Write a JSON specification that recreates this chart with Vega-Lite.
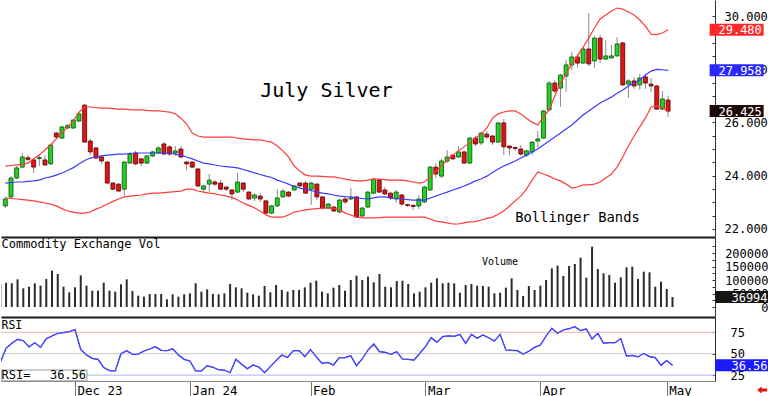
{
"$schema":"https://vega.github.io/schema/vega-lite/v6.json",
"padding":0,"spacing":0,"bounds":"flush","background":"white",
"config":{"view":{"stroke":null},"axis":{"grid":false,"title":null,"labelFont":"DejaVu Sans Mono","labelFontSize":12,"labelColor":"#000","labelOverlap":false}},
"resolve":{"scale":{"color":"independent"}},
"datasets":{"d":[
{"i":0,"t":"2023-11-13","o":22.86,"h":23.2,"l":22.78,"c":23.12,"ub":24.36,"mb":23.72,"lb":23.16,"v":85000,"r":40},
{"i":1,"t":"2023-11-14","o":23.2,"h":23.98,"l":23.16,"c":23.91,"ub":24.38,"mb":23.74,"lb":23.14,"v":90100,"r":56.3},
{"i":2,"t":"2023-11-15","o":23.91,"h":24.36,"l":23.87,"c":24.29,"ub":24.4,"mb":23.76,"lb":23.12,"v":87700,"r":62.1},
{"i":3,"t":"2023-11-16","o":24.32,"h":24.85,"l":24.29,"c":24.7,"ub":24.42,"mb":23.76,"lb":23.1,"v":102500,"r":66.8},
{"i":4,"t":"2023-11-17","o":24.67,"h":24.77,"l":24.55,"c":24.61,"ub":24.47,"mb":23.78,"lb":23.08,"v":69200,"r":65.2},
{"i":5,"t":"2023-11-20","o":24.59,"h":24.63,"l":24.1,"c":24.32,"ub":24.63,"mb":23.8,"lb":23.05,"v":75300,"r":57.8},
{"i":6,"t":"2023-11-21","o":24.64,"h":24.81,"l":24.36,"c":24.68,"ub":24.77,"mb":23.83,"lb":23.01,"v":87700,"r":62.9},
{"i":7,"t":"2023-11-22","o":24.59,"h":24.77,"l":24.36,"c":24.4,"ub":24.96,"mb":23.91,"lb":22.97,"v":79000,"r":57.4},
{"i":8,"t":"2023-11-24","o":24.44,"h":25.19,"l":24.4,"c":25.15,"ub":25.15,"mb":23.95,"lb":22.93,"v":103700,"r":67.6},
{"i":9,"t":"2023-11-27","o":25.6,"h":25.64,"l":25.41,"c":25.45,"ub":25.38,"mb":24.02,"lb":22.86,"v":134600,"r":70.7},
{"i":10,"t":"2023-11-28","o":25.41,"h":25.86,"l":25.38,"c":25.83,"ub":25.6,"mb":24.1,"lb":22.76,"v":122200,"r":73.8},
{"i":11,"t":"2023-11-29","o":25.79,"h":25.94,"l":25.75,"c":25.88,"ub":25.83,"mb":24.19,"lb":22.67,"v":75300,"r":74.6},
{"i":12,"t":"2023-11-30","o":25.79,"h":26.13,"l":25.75,"c":26.09,"ub":26.05,"mb":24.3,"lb":22.63,"v":54300,"r":75.7},
{"i":13,"t":"2023-12-01","o":26.05,"h":26.39,"l":26.01,"c":26.32,"ub":26.39,"mb":24.44,"lb":22.59,"v":72900,"r":78.1},
{"i":14,"t":"2023-12-04","o":26.65,"h":26.69,"l":25.23,"c":25.26,"ub":26.58,"mb":24.57,"lb":22.59,"v":117300,"r":55.1},
{"i":15,"t":"2023-12-05","o":25.3,"h":25.38,"l":24.77,"c":24.89,"ub":26.58,"mb":24.66,"lb":22.63,"v":79000,"r":48.5},
{"i":16,"t":"2023-12-06","o":25.04,"h":25.08,"l":24.63,"c":24.66,"ub":26.56,"mb":24.7,"lb":22.74,"v":60500,"r":44.6},
{"i":17,"t":"2023-12-07","o":24.7,"h":24.77,"l":24.44,"c":24.55,"ub":26.54,"mb":24.74,"lb":22.82,"v":60500,"r":43.4},
{"i":18,"t":"2023-12-08","o":24.51,"h":24.55,"l":23.68,"c":23.72,"ub":26.54,"mb":24.77,"lb":22.93,"v":90100,"r":33.7},
{"i":19,"t":"2023-12-11","o":23.72,"h":23.76,"l":23.46,"c":23.49,"ub":26.52,"mb":24.79,"lb":23.03,"v":60500,"r":30.2},
{"i":20,"t":"2023-12-12","o":23.68,"h":23.72,"l":23.38,"c":23.42,"ub":26.5,"mb":24.81,"lb":23.12,"v":56800,"r":29.8},
{"i":21,"t":"2023-12-13","o":23.49,"h":24.55,"l":23.23,"c":24.51,"ub":26.5,"mb":24.81,"lb":23.2,"v":84000,"r":50},
{"i":22,"t":"2023-12-14","o":24.47,"h":24.89,"l":24.44,"c":24.81,"ub":26.48,"mb":24.83,"lb":23.23,"v":102500,"r":53.5},
{"i":23,"t":"2023-12-15","o":24.85,"h":24.93,"l":24.4,"c":24.44,"ub":26.47,"mb":24.85,"lb":23.25,"v":59300,"r":49.3},
{"i":24,"t":"2023-12-18","o":24.63,"h":24.66,"l":24.36,"c":24.47,"ub":26.47,"mb":24.85,"lb":23.27,"v":42000,"r":49.6},
{"i":25,"t":"2023-12-19","o":24.47,"h":24.77,"l":24.44,"c":24.74,"ub":26.45,"mb":24.85,"lb":23.31,"v":38300,"r":53.2},
{"i":26,"t":"2023-12-20","o":24.74,"h":24.93,"l":24.7,"c":24.89,"ub":26.43,"mb":24.85,"lb":23.34,"v":48200,"r":55.5},
{"i":27,"t":"2023-12-21","o":24.85,"h":25.11,"l":24.81,"c":25.04,"ub":26.43,"mb":24.85,"lb":23.34,"v":48200,"r":58.2},
{"i":28,"t":"2023-12-22","o":25.19,"h":25.26,"l":24.77,"c":24.81,"ub":26.41,"mb":24.85,"lb":23.36,"v":48200,"r":53.9},
{"i":29,"t":"2023-12-26","o":25.08,"h":25.15,"l":24.74,"c":24.81,"ub":26.39,"mb":24.85,"lb":23.38,"v":28400,"r":53.5},
{"i":30,"t":"2023-12-27","o":24.85,"h":25.11,"l":24.74,"c":24.93,"ub":26.32,"mb":24.81,"lb":23.4,"v":46900,"r":55.9},
{"i":31,"t":"2023-12-28","o":25,"h":25.11,"l":24.66,"c":24.7,"ub":26.16,"mb":24.76,"lb":23.42,"v":38300,"r":48.5},
{"i":32,"t":"2023-12-29","o":24.51,"h":24.55,"l":24.21,"c":24.44,"ub":25.94,"mb":24.7,"lb":23.49,"v":46900,"r":43.4},
{"i":33,"t":"2024-01-02","o":24.51,"h":24.55,"l":24.29,"c":24.32,"ub":25.6,"mb":24.63,"lb":23.49,"v":50600,"r":41.5},
{"i":34,"t":"2024-01-03","o":24.25,"h":24.29,"l":23.57,"c":23.61,"ub":25.49,"mb":24.55,"lb":23.42,"v":87700,"r":29.8},
{"i":35,"t":"2024-01-04","o":23.49,"h":23.65,"l":23.38,"c":23.61,"ub":25.45,"mb":24.47,"lb":23.38,"v":56800,"r":29.8},
{"i":36,"t":"2024-01-05","o":23.68,"h":24.06,"l":23.38,"c":23.83,"ub":25.45,"mb":24.44,"lb":23.34,"v":65400,"r":36},
{"i":37,"t":"2024-01-08","o":23.76,"h":23.83,"l":23.61,"c":23.68,"ub":25.45,"mb":24.4,"lb":23.31,"v":48200,"r":34.1},
{"i":38,"t":"2024-01-09","o":23.72,"h":23.83,"l":23.46,"c":23.49,"ub":25.45,"mb":24.36,"lb":23.27,"v":46900,"r":31.3},
{"i":39,"t":"2024-01-10","o":23.57,"h":23.61,"l":23.42,"c":23.49,"ub":25.45,"mb":24.34,"lb":23.23,"v":50600,"r":30.9},
{"i":40,"t":"2024-01-11","o":23.46,"h":23.49,"l":23.08,"c":23.31,"ub":25.45,"mb":24.32,"lb":23.18,"v":85200,"r":27.8},
{"i":41,"t":"2024-01-12","o":23.38,"h":24.1,"l":23.34,"c":23.76,"ub":25.41,"mb":24.29,"lb":23.08,"v":72900,"r":43.4},
{"i":42,"t":"2024-01-16","o":23.72,"h":23.76,"l":23.38,"c":23.49,"ub":25.38,"mb":24.23,"lb":22.97,"v":69200,"r":37.6},
{"i":43,"t":"2024-01-17","o":23.38,"h":23.42,"l":23.08,"c":23.12,"ub":25.36,"mb":24.17,"lb":22.88,"v":53100,"r":32.5},
{"i":44,"t":"2024-01-18","o":23.16,"h":23.34,"l":23.05,"c":23.27,"ub":25.34,"mb":24.1,"lb":22.78,"v":46900,"r":36.8},
{"i":45,"t":"2024-01-19","o":23.23,"h":23.34,"l":23.01,"c":23.12,"ub":25.34,"mb":24.04,"lb":22.67,"v":42000,"r":34.5},
{"i":46,"t":"2024-01-22","o":23.05,"h":23.08,"l":22.55,"c":22.59,"ub":25.3,"mb":23.98,"lb":22.52,"v":77800,"r":27.8},
{"i":47,"t":"2024-01-23","o":22.59,"h":22.9,"l":22.55,"c":22.86,"ub":25.26,"mb":23.93,"lb":22.44,"v":54300,"r":34.9},
{"i":48,"t":"2024-01-24","o":22.86,"h":23.49,"l":22.82,"c":23.16,"ub":25.11,"mb":23.83,"lb":22.44,"v":81500,"r":41.9},
{"i":49,"t":"2024-01-25","o":23.2,"h":23.49,"l":23.16,"c":23.42,"ub":24.93,"mb":23.76,"lb":22.44,"v":63000,"r":48.5},
{"i":50,"t":"2024-01-26","o":23.38,"h":23.42,"l":23.2,"c":23.23,"ub":24.7,"mb":23.68,"lb":22.52,"v":56800,"r":45.4},
{"i":51,"t":"2024-01-29","o":23.46,"h":23.65,"l":23.42,"c":23.61,"ub":24.36,"mb":23.59,"lb":22.63,"v":63000,"r":53.5},
{"i":52,"t":"2024-01-30","o":23.72,"h":23.76,"l":23.57,"c":23.61,"ub":24.17,"mb":23.53,"lb":22.67,"v":63000,"r":53.5},
{"i":53,"t":"2024-01-31","o":23.72,"h":23.8,"l":23.31,"c":23.34,"ub":24.02,"mb":23.48,"lb":22.71,"v":72900,"r":46.6},
{"i":54,"t":"2024-02-01","o":23.49,"h":23.76,"l":22.9,"c":23.72,"ub":23.98,"mb":23.44,"lb":22.74,"v":90100,"r":54.7},
{"i":55,"t":"2024-02-02","o":23.68,"h":23.72,"l":23.08,"c":23.2,"ub":23.98,"mb":23.38,"lb":22.76,"v":97500,"r":46.2},
{"i":56,"t":"2024-02-05","o":23.2,"h":23.23,"l":22.74,"c":22.78,"ub":23.97,"mb":23.34,"lb":22.78,"v":56800,"r":38.7},
{"i":57,"t":"2024-02-06","o":22.78,"h":22.97,"l":22.74,"c":22.93,"ub":23.95,"mb":23.31,"lb":22.78,"v":50600,"r":39.9},
{"i":58,"t":"2024-02-07","o":22.82,"h":22.86,"l":22.63,"c":22.67,"ub":23.95,"mb":23.27,"lb":22.78,"v":71600,"r":36.8},
{"i":59,"t":"2024-02-08","o":22.63,"h":23.12,"l":22.59,"c":23.08,"ub":23.91,"mb":23.23,"lb":22.71,"v":81500,"r":45.4},
{"i":60,"t":"2024-02-09","o":23.12,"h":23.2,"l":22.93,"c":23.01,"ub":23.87,"mb":23.21,"lb":22.59,"v":60500,"r":45.4},
{"i":61,"t":"2024-02-12","o":23.12,"h":23.53,"l":23.08,"c":23.16,"ub":23.83,"mb":23.2,"lb":22.52,"v":100000,"r":47.7},
{"i":62,"t":"2024-02-13","o":23.2,"h":23.23,"l":22.41,"c":22.44,"ub":23.8,"mb":23.16,"lb":22.44,"v":116100,"r":36},
{"i":63,"t":"2024-02-14","o":22.48,"h":22.82,"l":22.44,"c":22.78,"ub":23.8,"mb":23.14,"lb":22.41,"v":100000,"r":43.8},
{"i":64,"t":"2024-02-15","o":22.82,"h":23.42,"l":22.78,"c":23.38,"ub":23.83,"mb":23.12,"lb":22.41,"v":112400,"r":54.3},
{"i":65,"t":"2024-02-16","o":23.34,"h":23.91,"l":23.31,"c":23.87,"ub":23.87,"mb":23.16,"lb":22.41,"v":91400,"r":61.3},
{"i":66,"t":"2024-02-20","o":23.83,"h":23.87,"l":23.34,"c":23.38,"ub":23.87,"mb":23.2,"lb":22.42,"v":122200,"r":52.4},
{"i":67,"t":"2024-02-21","o":23.46,"h":23.57,"l":23.27,"c":23.31,"ub":23.85,"mb":23.2,"lb":22.44,"v":75300,"r":51.6},
{"i":68,"t":"2024-02-22","o":23.34,"h":23.38,"l":23.08,"c":23.16,"ub":23.83,"mb":23.16,"lb":22.44,"v":72900,"r":49.3},
{"i":69,"t":"2024-02-23","o":23.12,"h":23.46,"l":22.97,"c":23.38,"ub":23.83,"mb":23.14,"lb":22.44,"v":96300,"r":52.4},
{"i":70,"t":"2024-02-26","o":23.27,"h":23.31,"l":22.86,"c":22.93,"ub":23.83,"mb":23.12,"lb":22.44,"v":97500,"r":43.8},
{"i":71,"t":"2024-02-27","o":22.91,"h":22.93,"l":22.82,"c":22.88,"ub":23.8,"mb":23.1,"lb":22.44,"v":85200,"r":43.4},
{"i":72,"t":"2024-02-28","o":22.88,"h":22.93,"l":22.71,"c":22.84,"ub":23.76,"mb":23.08,"lb":22.44,"v":50600,"r":42.6},
{"i":73,"t":"2024-02-29","o":22.86,"h":23.27,"l":22.74,"c":23.12,"ub":23.72,"mb":23.08,"lb":22.44,"v":56800,"r":50.4},
{"i":74,"t":"2024-03-01","o":23.01,"h":23.61,"l":22.97,"c":23.57,"ub":23.76,"mb":23.08,"lb":22.44,"v":72900,"r":58.2},
{"i":75,"t":"2024-03-04","o":23.46,"h":24.36,"l":23.42,"c":24.32,"ub":23.95,"mb":23.16,"lb":22.37,"v":90100,"r":68.7},
{"i":76,"t":"2024-03-05","o":24.32,"h":24.47,"l":23.91,"c":24.06,"ub":24.17,"mb":23.23,"lb":22.29,"v":106200,"r":63.3},
{"i":77,"t":"2024-03-06","o":23.98,"h":24.63,"l":23.91,"c":24.55,"ub":24.36,"mb":23.31,"lb":22.26,"v":87700,"r":69.9},
{"i":78,"t":"2024-03-07","o":24.55,"h":24.96,"l":24.47,"c":24.7,"ub":24.59,"mb":23.38,"lb":22.22,"v":90100,"r":70.7},
{"i":79,"t":"2024-03-08","o":24.77,"h":24.81,"l":24.59,"c":24.63,"ub":24.77,"mb":23.46,"lb":22.18,"v":87700,"r":70.3},
{"i":80,"t":"2024-03-11","o":24.7,"h":25.11,"l":24.66,"c":24.89,"ub":24.93,"mb":23.53,"lb":22.18,"v":53100,"r":72.6},
{"i":81,"t":"2024-03-12","o":24.89,"h":24.93,"l":24.44,"c":24.47,"ub":25.08,"mb":23.61,"lb":22.22,"v":81500,"r":62.1},
{"i":82,"t":"2024-03-13","o":24.47,"h":25.45,"l":24.44,"c":25.41,"ub":25.23,"mb":23.7,"lb":22.26,"v":85200,"r":72.6},
{"i":83,"t":"2024-03-14","o":25.41,"h":25.49,"l":25.11,"c":25.19,"ub":25.41,"mb":23.8,"lb":22.27,"v":79000,"r":68},
{"i":84,"t":"2024-03-15","o":25.23,"h":25.64,"l":25.15,"c":25.6,"ub":25.56,"mb":23.87,"lb":22.33,"v":77800,"r":71.8},
{"i":85,"t":"2024-03-18","o":25.56,"h":25.68,"l":25.38,"c":25.45,"ub":25.79,"mb":23.98,"lb":22.39,"v":75300,"r":68.7},
{"i":86,"t":"2024-03-19","o":25.49,"h":25.53,"l":25.15,"c":25.26,"ub":26.16,"mb":24.12,"lb":22.44,"v":50600,"r":64.8},
{"i":87,"t":"2024-03-20","o":25.26,"h":26.01,"l":25.23,"c":25.98,"ub":26.32,"mb":24.25,"lb":22.55,"v":53100,"r":72.6},
{"i":88,"t":"2024-03-21","o":25.98,"h":26.13,"l":24.77,"c":25.08,"ub":26.39,"mb":24.36,"lb":22.67,"v":71600,"r":54.3},
{"i":89,"t":"2024-03-22","o":25.11,"h":25.15,"l":24.77,"c":25.04,"ub":26.43,"mb":24.45,"lb":22.86,"v":106200,"r":53.9},
{"i":90,"t":"2024-03-25","o":25.06,"h":25.08,"l":24.93,"c":25.02,"ub":26.43,"mb":24.55,"lb":23.05,"v":63000,"r":53.5},
{"i":91,"t":"2024-03-26","o":25,"h":25.15,"l":24.74,"c":24.81,"ub":26.32,"mb":24.66,"lb":23.23,"v":40700,"r":49.6},
{"i":92,"t":"2024-03-27","o":24.77,"h":24.96,"l":24.7,"c":24.93,"ub":26.16,"mb":24.77,"lb":23.49,"v":77800,"r":52.8},
{"i":93,"t":"2024-03-28","o":24.89,"h":25.3,"l":24.77,"c":25.26,"ub":26.01,"mb":24.89,"lb":23.83,"v":63000,"r":57.4},
{"i":94,"t":"2024-04-01","o":25.3,"h":25.68,"l":25.04,"c":25.38,"ub":25.9,"mb":25,"lb":24.14,"v":79000,"r":60.2},
{"i":95,"t":"2024-04-02","o":25.41,"h":26.47,"l":25.38,"c":26.43,"ub":26.2,"mb":25.15,"lb":24.06,"v":100000,"r":70.7},
{"i":96,"t":"2024-04-03","o":26.47,"h":27.56,"l":26.43,"c":27.48,"ub":26.47,"mb":25.3,"lb":23.98,"v":143200,"r":79.6},
{"i":97,"t":"2024-04-04","o":27.48,"h":27.59,"l":27.1,"c":27.18,"ub":26.99,"mb":25.45,"lb":23.87,"v":153100,"r":73.8},
{"i":98,"t":"2024-04-05","o":27.29,"h":27.82,"l":26.58,"c":27.78,"ub":27.48,"mb":25.6,"lb":23.8,"v":114900,"r":77.7},
{"i":99,"t":"2024-04-08","o":27.74,"h":28.35,"l":27.14,"c":28.16,"ub":27.82,"mb":25.75,"lb":23.68,"v":151900,"r":79.2},
{"i":100,"t":"2024-04-09","o":28.16,"h":28.65,"l":27.97,"c":28.46,"ub":28.2,"mb":25.9,"lb":23.53,"v":159300,"r":81.6},
{"i":101,"t":"2024-04-10","o":28.46,"h":28.57,"l":28.06,"c":28.23,"ub":28.5,"mb":26.09,"lb":23.57,"v":182700,"r":76.9},
{"i":102,"t":"2024-04-11","o":28.23,"h":28.83,"l":28.2,"c":28.76,"ub":28.83,"mb":26.28,"lb":23.65,"v":108600,"r":78.9},
{"i":103,"t":"2024-04-12","o":28.76,"h":30.11,"l":28.12,"c":28.2,"ub":29.17,"mb":26.43,"lb":23.65,"v":223500,"r":67.2},
{"i":104,"t":"2024-04-15","o":28.31,"h":29.25,"l":28.06,"c":29.17,"ub":29.55,"mb":26.58,"lb":23.68,"v":140800,"r":73.8},
{"i":105,"t":"2024-04-16","o":29.17,"h":29.29,"l":28.23,"c":28.38,"ub":29.89,"mb":26.73,"lb":23.76,"v":124700,"r":62.1},
{"i":106,"t":"2024-04-17","o":28.38,"h":29.1,"l":28.35,"c":28.5,"ub":30.04,"mb":26.84,"lb":23.91,"v":118500,"r":62.9},
{"i":107,"t":"2024-04-18","o":28.42,"h":28.91,"l":28.42,"c":28.5,"ub":30.19,"mb":26.95,"lb":24.06,"v":90100,"r":62.9},
{"i":108,"t":"2024-04-19","o":28.5,"h":29.21,"l":28.46,"c":28.95,"ub":30.3,"mb":27.1,"lb":24.32,"v":109800,"r":67.6},
{"i":109,"t":"2024-04-22","o":28.99,"h":29.02,"l":27.37,"c":27.41,"ub":30.26,"mb":27.22,"lb":24.7,"v":146900,"r":47.3},
{"i":110,"t":"2024-04-23","o":27.44,"h":27.63,"l":26.92,"c":27.56,"ub":30.15,"mb":27.37,"lb":25.11,"v":149500,"r":48.1},
{"i":111,"t":"2024-04-24","o":27.56,"h":27.71,"l":27.26,"c":27.37,"ub":30.04,"mb":27.48,"lb":25.49,"v":103700,"r":46.2},
{"i":112,"t":"2024-04-25","o":27.41,"h":27.82,"l":27.22,"c":27.67,"ub":29.85,"mb":27.59,"lb":25.83,"v":130900,"r":50.4},
{"i":113,"t":"2024-04-26","o":27.71,"h":27.82,"l":27.26,"c":27.48,"ub":29.62,"mb":27.78,"lb":26.16,"v":128400,"r":46.6},
{"i":114,"t":"2024-04-29","o":27.44,"h":27.67,"l":27.14,"c":27.37,"ub":29.32,"mb":27.93,"lb":26.58,"v":75300,"r":45.4},
{"i":115,"t":"2024-04-30","o":27.37,"h":27.41,"l":26.47,"c":26.5,"ub":29.3,"mb":27.99,"lb":26.62,"v":93800,"r":36.4},
{"i":116,"t":"2024-05-01","o":26.5,"h":27.18,"l":26.47,"c":26.88,"ub":29.36,"mb":27.98,"lb":26.58,"v":66700,"r":41.9},
{"i":117,"t":"2024-05-02","o":26.84,"h":26.99,"l":26.21,"c":26.425,"ub":29.48,"mb":27.958,"lb":26.39,"v":36994,"r":36.56}
]},
"vconcat":[
{"width":714,"height":237,
 "resolve":{"axis":{"x":"independent","y":"independent"}},
 "layer":[
  {"data":{"name":"d"},"mark":{"type":"rule","color":"#8a8a8a","strokeWidth":1,"clip":true},
   "encoding":{
    "x":{"field":"i","type":"quantitative","scale":{"domain":[0.12,124.4],"nice":false,"zero":false},"axis":{"orient":"bottom","labels":false,"ticks":false,"domainColor":"#1a1a1a","domainWidth":2}},
    "y":{"field":"l","type":"quantitative","scale":{"domain":[21.692,30.6015],"nice":false,"zero":false},"axis":{"orient":"right","values":[22,22.5,23,23.5,24,24.5,25,25.5,26,26.5,27,27.5,28,28.5,29,29.5,30],"labelExpr":"datum.value % 2 == 0 ? format(datum.value, '.3f') : ''","labelOverlap":false,"tickSize":-3,"tickColor":"#333","domainColor":"#333","labelPadding":12,"labelAlign":"left","labelBaseline":"middle"}},
    "y2":{"field":"h"}}},
  {"data":{"name":"d"},"mark":{"type":"bar","width":4,"clip":true,"strokeWidth":0.8},
   "encoding":{"x":{"field":"i","type":"quantitative","axis":null},"y":{"field":"o","type":"quantitative","axis":null},"y2":{"field":"c"},
    "fill":{"condition":{"test":"datum.c >= datum.o","value":"#1ed41e"},"value":"#e01414"},
    "stroke":{"condition":{"test":"datum.c >= datum.o","value":"#0b4f0b"},"value":"#5c0000"}}},
  {"data":{"name":"d"},"mark":{"type":"line","color":"#ff3c3c","strokeWidth":1.2,"clip":true},
   "encoding":{"x":{"field":"i","type":"quantitative","axis":null},"y":{"field":"ub","type":"quantitative","axis":null}}},
  {"data":{"name":"d"},"mark":{"type":"line","color":"#3c3cff","strokeWidth":1.2,"clip":true},
   "encoding":{"x":{"field":"i","type":"quantitative","axis":null},"y":{"field":"mb","type":"quantitative","axis":null}}},
  {"data":{"name":"d"},"mark":{"type":"line","color":"#ff3c3c","strokeWidth":1.2,"clip":true},
   "encoding":{"x":{"field":"i","type":"quantitative","axis":null},"y":{"field":"lb","type":"quantitative","axis":null}}},
  {"data":{"values":[{}]},"mark":{"type":"text","text":"July Silver","font":"DejaVu Sans Mono","fontSize":20,"align":"center","baseline":"alphabetic","color":"#000"},
   "encoding":{"x":{"datum":56.69,"type":"quantitative","axis":null},"y":{"datum":26.966,"type":"quantitative","axis":null}}},
  {"data":{"values":[{}]},"mark":{"type":"text","text":"Bollinger Bands","font":"DejaVu Sans Mono","fontSize":13.8,"align":"center","baseline":"alphabetic","color":"#000"},
   "encoding":{"x":{"datum":101.0,"type":"quantitative","axis":null},"y":{"datum":22.267,"type":"quantitative","axis":null}}},
  {"data":{"values":[{"k":"upper","v":29.48},{"k":"middle","v":27.958},{"k":"close","v":26.425}]},
   "mark":{"type":"point","shape":"M-1,-0.2222H1V0.2222H-1Z","size":2916,"filled":true,"opacity":1,"strokeWidth":0},
   "encoding":{"x":{"datum":129.1,"type":"quantitative","axis":null},"y":{"field":"v","type":"quantitative","axis":null},
    "color":{"field":"k","type":"nominal","scale":{"domain":["upper","middle","close"],"range":["#ff2828","#2828ff","#1e0808"]},"legend":null}}},
  {"data":{"values":[{"k":"upper","v":29.48},{"k":"middle","v":27.958},{"k":"close","v":26.425}]},
   "mark":{"type":"text","font":"DejaVu Sans Mono","fontSize":12,"align":"right","baseline":"middle","color":"#fff","dy":0.5},
   "encoding":{"x":{"datum":133.55,"type":"quantitative","axis":null},"y":{"field":"v","type":"quantitative","axis":null},"text":{"field":"v","type":"quantitative","format":".3f"}}}
 ]},
{"width":714,"height":80,
 "resolve":{"axis":{"x":"independent","y":"independent"}},
 "layer":[
  {"data":{"name":"d"},"mark":{"type":"rule","color":"#2b2b2b","strokeWidth":2,"clip":true},
   "encoding":{
    "x":{"field":"i","type":"quantitative","scale":{"domain":[0.12,124.4],"nice":false,"zero":false},"axis":{"orient":"bottom","labels":false,"ticks":false,"domainColor":"#1a1a1a","domainWidth":2}},
    "y":{"field":"v","type":"quantitative","scale":{"domain":[-37040,259280],"nice":false,"zero":false},"axis":{"orient":"right","values":[0,25000,50000,75000,100000,125000,150000,175000,200000,225000],"labelExpr":"datum.value % 50000 == 0 && datum.value <= 200000 ? format(datum.value, 'd') : ''","labelOverlap":false,"labelBound":false,"tickSize":-3,"tickColor":"#333","domainColor":"#333","labelPadding":56,"labelAlign":"right","labelBaseline":"middle"}},
    "y2":{"datum":0}}},
  {"data":{"values":[{}]},"mark":{"type":"text","text":"Commodity Exchange Vol","font":"DejaVu Sans Mono","fontSize":12,"align":"left","baseline":"alphabetic","color":"#000"},
   "encoding":{"x":{"datum":0.2,"type":"quantitative","axis":null},"y":{"datum":217400,"type":"quantitative","axis":null}}},
  {"data":{"values":[{}]},"mark":{"type":"text","text":"Volume","font":"DejaVu Sans Mono","fontSize":10,"align":"center","baseline":"alphabetic","color":"#000"},
   "encoding":{"x":{"datum":86.98,"type":"quantitative","axis":null},"y":{"datum":155600,"type":"quantitative","axis":null}}},
  {"data":{"values":[{"v":36994}]},
   "mark":{"type":"point","shape":"M-1,-0.2222H1V0.2222H-1Z","size":2916,"filled":true,"opacity":1,"strokeWidth":0,"color":"#161616"},
   "encoding":{"x":{"datum":129.1,"type":"quantitative","axis":null},"y":{"field":"v","type":"quantitative","axis":null}}},
  {"data":{"values":[{"v":36994}]},
   "mark":{"type":"text","font":"DejaVu Sans Mono","fontSize":12,"align":"right","baseline":"middle","color":"#fff","dy":0.5},
   "encoding":{"x":{"datum":133.55,"type":"quantitative","axis":null},"y":{"field":"v","type":"quantitative","axis":null},"text":{"field":"v","type":"quantitative","format":"d"}}}
 ]},
{"width":714,"height":64,
 "resolve":{"axis":{"x":"independent","y":"independent"}},
 "layer":[
  {"data":{"name":"d"},"mark":{"type":"line","color":"#4646ff","strokeWidth":1.2,"clip":true},
   "encoding":{
    "x":{"field":"i","type":"quantitative","scale":{"domain":[0.12,124.4],"nice":false,"zero":false},"axis":{"orient":"bottom","values":[13,33,54,74,94,116],"labelExpr":"datum.value == 13 ? 'Dec 23' : datum.value == 33 ? 'Jan 24' : datum.value == 54 ? 'Feb' : datum.value == 74 ? 'Mar' : datum.value == 94 ? 'Apr' : datum.value == 116 ? 'May' : ''","tickSize":15,"tickColor":"#777","domainColor":"#8a8a8a","labelAlign":"left","labelBaseline":"alphabetic","labelPadding":-2,"labelOffset":2,"labelFlush":false,"labelOverlap":false,"labelFontSize":12.5}},
    "y":{"field":"r","type":"quantitative","scale":{"domain":[18.1,92.87],"nice":false,"zero":false},"axis":{"orient":"right","values":[25,50,75],"labelOverlap":false,"labelBound":false,"tickSize":-3,"tickColor":"#333","domainColor":"#333","labelPadding":18,"labelAlign":"left","labelBaseline":"middle"}}}},
  {"data":{"values":[{}]},"mark":{"type":"rule","strokeWidth":1,"color":"#f2b0b0"},
   "encoding":{"y":{"datum":75,"type":"quantitative","axis":null}}},
  {"data":{"values":[{}]},"mark":{"type":"rule","strokeWidth":1,"color":"#c8c8c8"},
   "encoding":{"y":{"datum":50,"type":"quantitative","axis":null}}},
  {"data":{"values":[{}]},"mark":{"type":"rule","strokeWidth":1,"color":"#b0b0f2"},
   "encoding":{"y":{"datum":25,"type":"quantitative","axis":null}}},
  {"data":{"name":"d"},"mark":{"type":"line","color":"#4646ff","strokeWidth":1.2,"clip":true},
   "encoding":{"x":{"field":"i","type":"quantitative","axis":null},"y":{"field":"r","type":"quantitative","axis":null}}},
  {"data":{"values":[{}]},"mark":{"type":"text","text":"RSI","font":"DejaVu Sans Mono","fontSize":11.5,"align":"left","baseline":"alphabetic","color":"#000"},
   "encoding":{"x":{"datum":0.2,"type":"quantitative","axis":null},"y":{"datum":78.9,"type":"quantitative","axis":null}}},
  {"data":{"values":[{}]},"mark":{"type":"rect","fill":"#fff","stroke":"#999","strokeWidth":1},
   "encoding":{"x":{"datum":0.25,"type":"quantitative","axis":null},"x2":{"datum":15.09},"y":{"datum":18.3,"type":"quantitative","axis":null},"y2":{"datum":31.0}}},
  {"data":{"values":[{}]},"mark":{"type":"text","text":"RSI=","font":"DejaVu Sans Mono","fontSize":12,"align":"left","baseline":"alphabetic","color":"#000"},
   "encoding":{"x":{"datum":0.2,"type":"quantitative","axis":null},"y":{"datum":20.4,"type":"quantitative","axis":null}}},
  {"data":{"values":[{"r":36.56}]},"mark":{"type":"text","font":"DejaVu Sans Mono","fontSize":12,"align":"right","baseline":"alphabetic","color":"#000"},
   "encoding":{"x":{"datum":14.92,"type":"quantitative","axis":null},"y":{"datum":20.4,"type":"quantitative","axis":null},"text":{"field":"r","type":"quantitative","format":".2f"}}},
  {"data":{"values":[{"r":36.56}]},
   "mark":{"type":"point","shape":"M-1,-0.2222H1V0.2222H-1Z","size":2916,"filled":true,"opacity":1,"strokeWidth":0,"color":"#1a1aff"},
   "encoding":{"x":{"datum":129.1,"type":"quantitative","axis":null},"y":{"field":"r","type":"quantitative","axis":null}}},
  {"data":{"values":[{"r":36.56}]},
   "mark":{"type":"text","font":"DejaVu Sans Mono","fontSize":12,"align":"right","baseline":"middle","color":"#fff","dy":0.5},
   "encoding":{"x":{"datum":133.55,"type":"quantitative","axis":null},"y":{"field":"r","type":"quantitative","axis":null},"text":{"field":"r","type":"quantitative","format":".2f"}}},
  {"data":{"values":[{}]},
   "mark":{"type":"point","shape":"M-1,0L-0.1,-0.7V-0.3H1V0.3H-0.1V0.7Z","size":100,"filled":true,"opacity":1,"strokeWidth":0,"color":"#e8140c"},
   "encoding":{"x":{"datum":132.6,"type":"quantitative","axis":null},"y":{"datum":7.6,"type":"quantitative","axis":null}}}
 ]}
]
}
